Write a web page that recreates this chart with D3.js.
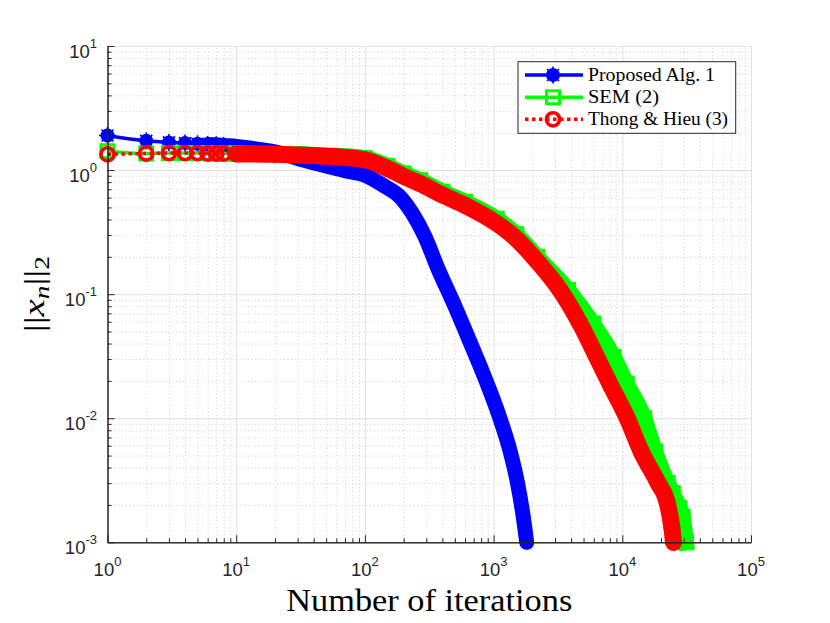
<!DOCTYPE html>
<html>
<head>
<meta charset="utf-8">
<script src="https://cdn.jsdelivr.net/npm/d3@7"></script>
<style>
body { margin:0; background:#fff; }
svg { display:block; }
.lbl { font-family:"Liberation Sans", Arial, sans-serif; fill:#262626; }
.serif { font-family:"Liberation Serif", "Times New Roman", serif; fill:#000; }
</style>
</head>
<body>
<div id="chart"></div>
<script>
// values: iteration n and ||x_n||_2
var propIter = [1,2,3,4,5,6,7,8,10,15,20,31,50,70,100,143,187,233,293,372,490,631,752,891,1109,1339,1534,1701,1807];
var propVal  = [1.9,1.72,1.67,1.65,1.63,1.61,1.6,1.58,1.55,1.47,1.4,1.23,1.08,0.99,0.91,0.74,0.61,0.45,0.29,0.158,0.084,0.0453,0.0294,0.019,0.0103,0.0055,0.003,0.0016,0.001];

var semIter = [1,2,3,4,5,6,7,8,10,20,31,60,100,150,200,268,400,600,1057,1500,2180,3790,5920,8570,10800,14810,17990,22540,24650,27750,29440,31260];
var semVal  = [1.42,1.36,1.37,1.37,1.37,1.37,1.36,1.36,1.36,1.35,1.34,1.3,1.25,1.08,0.94,0.83,0.67,0.555,0.405,0.305,0.2,0.108,0.058,0.0312,0.019,0.01,0.0054,0.003,0.0025,0.0019,0.0016,0.001];

var thongIter = [1,2,3,4,5,6,7,8,10,20,31,60,100,150,200,268,400,600,1057,1500,2034,3281,4693,6324,8000,10930,14000,19000,22130,24230,25000];
var thongVal  = [1.34,1.36,1.37,1.37,1.37,1.36,1.36,1.36,1.35,1.34,1.32,1.28,1.21,1.03,0.89,0.78,0.63,0.52,0.372,0.28,0.2,0.108,0.058,0.0312,0.019,0.01,0.0054,0.003,0.00216,0.00133,0.001];

var seriesNames = ['Proposed Alg. 1','SEM (2)','Thong & Hieu (3)'];
var xTickExp = [0,1,2,3,4,5];
var yTickExp = [-3,-2,-1,0,1];

var W = 830, H = 623;
var margin = {top:46, left:107.5};
var width = 751 - 107.5, height = 542.3 - 46;

var svg = d3.select('#chart').append('svg')
  .attr('width', W).attr('height', H);

var g = svg.append('g')
  .attr('transform', 'translate(' + margin.left + ',' + margin.top + ')');

var x = d3.scaleLog().domain([1, 1e5]).range([0, width]);
var y = d3.scaleLog().domain([1e-3, 10]).range([height, 0]);

var majorX = xTickExp.map(function(e){ return Math.pow(10, e); });
var majorY = yTickExp.map(function(e){ return Math.pow(10, e); });
function minors(majors){
  var out = [];
  majors.slice(0, -1).forEach(function(m){
    for (var k = 2; k <= 9; k++) out.push(m * k);
  });
  return out;
}
var minorX = minors(majorX), minorY = minors(majorY);

// grids
function gridStyle(sel, minor){
  sel.select('.domain').remove();
  sel.selectAll('.tick line')
    .attr('stroke', minor ? '#c4c4c4' : '#e1e1e1')
    .attr('stroke-width', minor ? 0.8 : 1)
    .attr('stroke-dasharray', minor ? '1,2.6' : null);
}
g.append('g').attr('transform', 'translate(0,' + height + ')')
  .call(d3.axisBottom(x).tickValues(minorX).tickSize(-height).tickFormat(''))
  .call(gridStyle, true);
g.append('g')
  .call(d3.axisLeft(y).tickValues(minorY).tickSize(-width).tickFormat(''))
  .call(gridStyle, true);
g.append('g').attr('transform', 'translate(0,' + height + ')')
  .call(d3.axisBottom(x).tickValues(majorX).tickSize(-height).tickFormat(''))
  .call(gridStyle, false);
g.append('g')
  .call(d3.axisLeft(y).tickValues(majorY).tickSize(-width).tickFormat(''))
  .call(gridStyle, false);

// series
var series = [
  {name:seriesNames[0], iter:propIter, val:propVal, color:'#0000ff', marker:'dot', dash:null, bandFrom:6, band:15},
  {name:seriesNames[1], iter:semIter, val:semVal, color:'#00ff00', marker:'square', dash:null, bandFrom:10, band:16},
  {name:seriesNames[2], iter:thongIter, val:thongVal, color:'#ff0000', marker:'circle', dash:'3.5,3.5', bandFrom:10, band:17}
];
series.forEach(function(s){
  s.points = s.iter.map(function(n, i){ return {n:n, v:s.val[i]}; });
});

var line = d3.line()
  .x(function(d){ return x(d.n); })
  .y(function(d){ return y(d.v); })
  .curve(d3.curveMonotoneX);

function drawMarker(sel, s, px, py, spikes){
  var m = sel.append('g').attr('transform', 'translate(' + px + ',' + py + ')');
  if (s.marker == 'dot') {
    m.append('circle').attr('r', 7).attr('fill', s.color);
    if (spikes) {
      [0, 45, 90, 135].forEach(function(a){
        m.append('line').attr('x1', -8.5).attr('x2', 8.5)
          .attr('transform', 'rotate(' + a + ')')
          .attr('stroke', s.color).attr('stroke-width', 1.6);
      });
    }
  } else if (s.marker == 'square') {
    m.append('rect').attr('x', -6.5).attr('y', -6.5).attr('width', 13).attr('height', 13)
      .attr('fill', 'none').attr('stroke', s.color).attr('stroke-width', 3);
  } else {
    m.append('circle').attr('r', 6.6)
      .attr('fill', 'none').attr('stroke', s.color).attr('stroke-width', 3.6);
  }
}

series.forEach(function(s){
  var sg = g.append('g').attr('class', 'series');
  // thin line
  sg.append('path')
    .attr('d', line(s.points))
    .attr('fill', 'none')
    .attr('stroke', s.color)
    .attr('stroke-width', 3.5)
    .attr('stroke-dasharray', s.dash);
  // where the markers overlap into a solid band
  sg.append('path')
    .attr('d', line(s.points.filter(function(d){ return d.n >= s.bandFrom; })))
    .attr('fill', 'none')
    .attr('stroke', s.color)
    .attr('stroke-width', s.band)
    .attr('stroke-linecap', s.marker == 'square' ? 'square' : 'round')
    .attr('stroke-linejoin', 'round');
  s.points.forEach(function(d){
    drawMarker(sg, s, x(d.n), y(d.v), d.n < 10);
  });
});

// axes: left and bottom only, ticks inward
function axisStyle(sel){
  sel.select('.domain').attr('stroke', '#262626');
  sel.selectAll('.tick line').attr('stroke', '#262626');
}
g.append('g').attr('transform', 'translate(0,' + height + ')')
  .call(d3.axisBottom(x).tickValues(minorX).tickSizeInner(-4).tickSizeOuter(0).tickFormat(''))
  .call(axisStyle);
g.append('g').attr('transform', 'translate(0,' + height + ')')
  .call(d3.axisBottom(x).tickValues(majorX).tickSizeInner(-7).tickSizeOuter(0).tickFormat(''))
  .call(axisStyle);
g.append('g')
  .call(d3.axisLeft(y).tickValues(minorY).tickSizeInner(-4).tickSizeOuter(0).tickFormat(''))
  .call(axisStyle);
g.append('g')
  .call(d3.axisLeft(y).tickValues(majorY).tickSizeInner(-7).tickSizeOuter(0).tickFormat(''))
  .call(axisStyle);

// tick labels 10^k
xTickExp.forEach(function(e){
  var t = g.append('text').attr('class', 'lbl')
    .attr('x', x(Math.pow(10, e)))
    .attr('y', height + 34)
    .attr('text-anchor', 'middle')
    .style('font-size', '18.5px');
  t.append('tspan').text('10');
  t.append('tspan').attr('dy', -10.5).style('font-size', '13px').text(e);
});
yTickExp.forEach(function(e){
  var t = g.append('text').attr('class', 'lbl')
    .attr('x', -10.5)
    .attr('y', y(Math.pow(10, e)) + 12)
    .attr('text-anchor', 'end')
    .style('font-size', '18.5px');
  t.append('tspan').text('10');
  t.append('tspan').attr('dy', -10.5).style('font-size', '13px').text(e);
});

// axis titles
svg.append('text').attr('class', 'serif')
  .attr('font-family', 'Liberation Serif')
  .attr('x', margin.left + width / 2)
  .attr('y', 611)
  .attr('text-anchor', 'middle')
  .attr('textLength', 286)
  .attr('lengthAdjust', 'spacingAndGlyphs')
  .style('font-size', '31px')
  .text('Number of iterations');

var yl = svg.append('text').attr('class', 'serif')
  .attr('transform', 'translate(44,' + (margin.top + height / 2) + ') rotate(-90)')
  .attr('text-anchor', 'middle')
  .attr('textLength', 76)
  .attr('lengthAdjust', 'spacingAndGlyphs')
  .style('font-size', '30px');
yl.append('tspan').text('||');
yl.append('tspan').style('font-style', 'italic').text('x');
yl.append('tspan').style('font-style', 'italic').style('font-size', '21px').attr('dy', 5).text('n');
yl.append('tspan').attr('dy', -5).text('||');
yl.append('tspan').style('font-size', '21px').attr('dy', 5).text('2');

// legend
var leg = svg.append('g').attr('transform', 'translate(518,61.7)');
leg.append('rect')
  .attr('width', 217.7).attr('height', 71.6)
  .attr('fill', '#fff').attr('stroke', '#262626').attr('stroke-width', 1);
var legRowY = [13.3, 35.6, 57.6];
var legTextLen = [127, 71, 140];
series.forEach(function(s, i){
  var r = leg.append('g').attr('transform', 'translate(0,' + legRowY[i] + ')');
  r.append('line')
    .attr('x1', 7).attr('x2', 65)
    .attr('stroke', s.color).attr('stroke-width', 3.5)
    .attr('stroke-dasharray', s.dash);
  drawMarker(r, s, 35, 0, true);
  r.append('text').attr('class', 'serif')
    .attr('x', 70).attr('y', 6)
    .attr('textLength', legTextLen[i])
    .attr('lengthAdjust', 'spacingAndGlyphs')
    .style('font-size', '18px')
    .text(s.name);
});
</script>
</body>
</html>
